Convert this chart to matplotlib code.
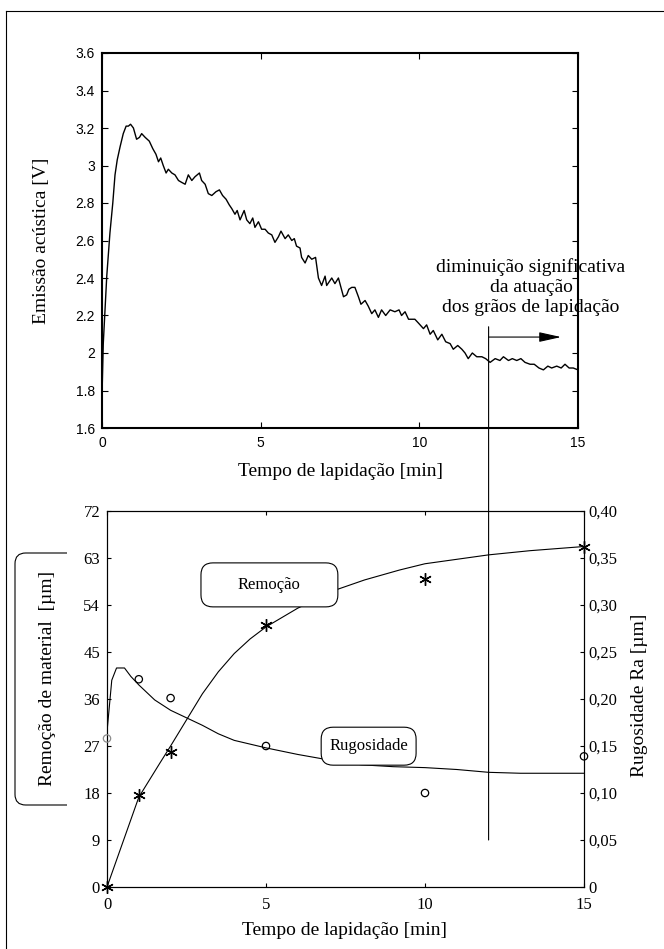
import matplotlib
matplotlib.use('Agg')
from matplotlib import pyplot
from matplotlib.patches import FancyBboxPatch, Rectangle, ConnectionPatch
from matplotlib.lines import Line2D
from matplotlib.ticker import FuncFormatter
import matplotlib.transforms as mtransforms

# emissao acustica x tempo
ae_t = [0.00, 0.04, 0.15, 0.25, 0.34, 0.41, 0.48, 0.57, 0.67, 0.76,
        0.83, 0.90, 0.99, 1.09, 1.18, 1.25, 1.36, 1.49, 1.60, 1.70,
        1.78, 1.85, 1.93, 2.02, 2.09, 2.20, 2.30, 2.41, 2.51, 2.62,
        2.72, 2.83, 2.93, 3.07, 3.14, 3.25, 3.35, 3.46, 3.59, 3.70,
        3.80, 3.91, 4.01, 4.09, 4.19, 4.26, 4.35, 4.48, 4.56, 4.66,
        4.75, 4.82, 4.93, 5.03, 5.14, 5.24, 5.35, 5.45, 5.56, 5.64,
        5.77, 5.87, 5.98, 6.06, 6.13, 6.24, 6.29, 6.40, 6.50, 6.61,
        6.73, 6.82, 6.92, 7.03, 7.08, 7.24, 7.34, 7.45, 7.53, 7.61,
        7.71, 7.78, 7.87, 7.97, 8.08, 8.16, 8.29, 8.39, 8.50, 8.60,
        8.71, 8.81, 8.94, 9.08, 9.23, 9.36, 9.44, 9.55, 9.66, 9.86,
        9.97, 10.13, 10.23, 10.34, 10.44, 10.58, 10.71, 10.83, 10.97, 11.07,
        11.21, 11.34, 11.44, 11.54, 11.67, 11.81, 11.97, 12.09, 12.23, 12.39,
        12.54, 12.65, 12.81, 12.93, 13.07, 13.20, 13.33, 13.49, 13.62, 13.77,
        13.91, 14.05, 14.17, 14.33, 14.47, 14.59, 14.72, 14.85, 15.00]
ae_v = [1.77, 2.05, 2.41, 2.64, 2.80, 2.95, 3.03, 3.10, 3.17, 3.21,
        3.21, 3.22, 3.20, 3.14, 3.15, 3.17, 3.15, 3.13, 3.09, 3.06,
        3.02, 3.04, 3.00, 2.96, 2.98, 2.96, 2.95, 2.92, 2.91, 2.90,
        2.95, 2.92, 2.94, 2.96, 2.92, 2.90, 2.85, 2.84, 2.86, 2.87,
        2.84, 2.82, 2.79, 2.77, 2.74, 2.76, 2.71, 2.76, 2.71, 2.69,
        2.72, 2.67, 2.70, 2.66, 2.66, 2.64, 2.63, 2.59, 2.62, 2.65,
        2.61, 2.63, 2.60, 2.61, 2.57, 2.56, 2.51, 2.48, 2.52, 2.50,
        2.51, 2.40, 2.36, 2.41, 2.36, 2.40, 2.37, 2.40, 2.35, 2.30,
        2.31, 2.34, 2.35, 2.35, 2.30, 2.26, 2.28, 2.25, 2.21, 2.23,
        2.19, 2.23, 2.20, 2.23, 2.22, 2.23, 2.20, 2.22, 2.18, 2.18,
        2.16, 2.13, 2.15, 2.10, 2.12, 2.07, 2.10, 2.06, 2.05, 2.02,
        2.04, 2.02, 2.00, 1.97, 2.00, 1.98, 1.98, 1.97, 1.95, 1.97,
        1.96, 1.98, 1.96, 1.97, 1.96, 1.97, 1.95, 1.94, 1.94, 1.92,
        1.91, 1.93, 1.92, 1.93, 1.92, 1.94, 1.92, 1.92, 1.91]

# remocao de material [um]
rem_t = [0, 1, 2, 5, 10, 15]
rem_v = [0, 17.6, 25.9, 50.2, 59.0, 65.1]
rem_fit_t = [0, 1, 1.66, 2, 2.5, 3, 3.5, 4, 4.5, 5, 6, 7.2, 8.1, 9.2, 10, 12, 13.3, 15]
rem_fit_v = [0, 17.2, 23.7, 27.0, 32.0, 37.0, 41.2, 44.7, 47.5, 49.8, 53.4, 56.9, 58.8, 60.7, 61.9, 63.6, 64.4, 65.2]

# rugosidade Ra [um]
rug_t = [0, 1, 2, 5, 10, 15]
rug_v = [0.158, 0.221, 0.201, 0.150, 0.100, 0.139]
rug_fit_t = [0, 0.15, 0.3, 0.55, 0.75, 1, 1.5, 2, 2.5, 3, 3.5, 4, 5, 6, 7, 8, 9, 10, 11, 12, 13, 14, 15]
rug_fit_v = [0.165, 0.220, 0.233, 0.233, 0.224, 0.215, 0.199, 0.188, 0.180, 0.172, 0.163, 0.156, 0.148,
             0.141, 0.135, 0.130, 0.128, 0.127, 0.125, 0.122, 0.121, 0.121, 0.121]

time_ticks = [0, 5, 10, 15]
ae_ticks = [1.6, 1.8, 2.0, 2.2, 2.4, 2.6, 2.8, 3.0, 3.2, 3.4, 3.6]
rem_ticks = [0, 9, 18, 27, 36, 45, 54, 63, 72]
rug_ticks = [0, 0.05, 0.10, 0.15, 0.20, 0.25, 0.30, 0.35, 0.40]
rug_labels = ['0', '0,05', '0,10', '0,15', '0,20', '0,25', '0,30', '0,35', '0,40']
t_mark = 12

pyplot.rcParams['font.family'] = ['Liberation Serif', 'DejaVu Serif']

W, H = 664, 949
fig = pyplot.figure(figsize=(W / 100, H / 100), dpi=100)

# outer frame (only left and top edges visible)
fig.add_artist(Line2D([6 / W, 6 / W], [0, 1 - 11 / H], color='black', lw=0.8, transform=fig.transFigure))
fig.add_artist(Line2D([6 / W, 1], [1 - 11 / H, 1 - 11 / H], color='black', lw=0.8, transform=fig.transFigure))

# ---- top: acoustic emission
ax1 = fig.add_axes([102 / W, 1 - 428 / H, 476 / W, 375 / H])
ax1.plot(ae_t, ae_v, '-', color='black', lw=1.0)
ax1.set_xlim(0, 15)
ax1.set_ylim(1.6, 3.6)
ax1.set_xticks(time_ticks)
ax1.set_yticks(ae_ticks)
ax1.yaxis.set_major_formatter(FuncFormatter(lambda v, p: '%g' % round(v, 1)))
ax1.tick_params(direction='in', top=True, right=True, length=4, width=0.8,
                labelsize=10, labelfontfamily='Liberation Sans')
ax1.tick_params(axis='x', pad=6)
ax1.tick_params(axis='y', pad=5)
for s in ax1.spines.values():
    s.set_linewidth(1.5)
fig.text(340 / W, 1 - 476 / H, 'Tempo de lapidação [min]', ha='center', va='baseline', fontsize=14)
fig.text(42 / W, 1 - 241 / H, 'Emissão acústica [V]', ha='center', va='center', rotation=90, fontsize=14)

# ---- bottom: removal and roughness
ax2 = fig.add_axes([107 / W, 1 - 887 / H, 477 / W, 376 / H])
ax3 = ax2.twinx()
ax2.plot(rem_fit_t, rem_fit_v, '-', color='black', lw=0.8)
ax2.plot(rem_t, rem_v, ls='none', marker=(6, 2, 0), color='black', ms=9, mew=1.0, clip_on=False)
ax2.set_xlim(0, 15)
ax2.set_ylim(0, 72)
ax2.set_xticks(time_ticks)
ax2.set_yticks(rem_ticks)
ax2.tick_params(direction='in', top=True, length=3, width=0.8, labelsize=12)
ax2.tick_params(axis='x', pad=7)
ax2.tick_params(axis='y', pad=5)

ax3.plot(rug_fit_t, rug_fit_v, '-', color='black', lw=0.8)
ax3.scatter(rug_t, rug_v, s=28, facecolors='none',
            edgecolors=['#8c8c8c'] + ['black'] * (len(rug_t) - 1), linewidths=0.9, clip_on=False, zorder=3)
ax3.set_ylim(0, 0.4)
ax3.set_yticks(rug_ticks)
ax3.set_yticklabels(rug_labels)
ax3.tick_params(direction='in', length=3, width=0.8, labelsize=12, pad=3.5)
for a in (ax2, ax3):
    for s in a.spines.values():
        s.set_linewidth(0.8)

fig.text(345 / W, 1 - 935 / H, 'Tempo de lapidação [min]', ha='center', va='baseline', fontsize=14)
fig.text(640 / W, 1 - 695 / H, 'Rugosidade Ra [µm]', ha='center', va='center', rotation=90, fontsize=14)
fig.text(47 / W, 1 - 678 / H, 'Remoção de material  [µm]', ha='center', va='center', rotation=90, fontsize=14)

# rounded frame round the left label, cut on its right side
lbox = FancyBboxPatch((15 / W, 1 - 805 / H), 100 / W, 252 / H,
                      boxstyle='round,pad=0,rounding_size=0.016', mutation_aspect=W / H,
                      fc='none', ec='black', lw=0.8, transform=fig.transFigure)
fig.add_artist(lbox)
lbox.set_clip_path(Rectangle((0, 0), 67 / W, 1, transform=fig.transFigure))

# curve labels in rounded boxes (axes fraction of the bottom plot)
asp = 477 / 376
for x0, y0, w, h, txt in [(0.197, 0.745, 0.287, 0.117, 'Remoção'),
                          (0.449, 0.324, 0.199, 0.101, 'Rugosidade')]:
    ax3.add_patch(FancyBboxPatch((x0, y0), w, h, boxstyle='round,pad=0,rounding_size=0.025',
                                 mutation_aspect=asp, fc='white', ec='black', lw=0.8,
                                 transform=ax3.transAxes, zorder=5))
    ax3.text(x0 + w / 2, y0 + h / 2, txt, ha='center', va='center', fontsize=12,
             transform=ax3.transAxes, zorder=6)

# vertical marker at t = 12 min across both plots, with arrow and note
blend = mtransforms.blended_transform_factory(ax2.transData, ax1.transData)
fig.add_artist(ConnectionPatch(xyA=(t_mark, 0.05), coordsA=ax3.transData,
                               xyB=(t_mark, 2.14), coordsB=blend, color='black', lw=0.8))
ax1.annotate('', xy=(14.28, 2.085), xycoords=blend, xytext=(t_mark, 2.085), textcoords=blend,
             arrowprops=dict(arrowstyle='-|>,head_length=0.9,head_width=0.2', color='black',
                             lw=0.8, mutation_scale=15, shrinkA=0, shrinkB=0))
ax1.text(13.52, 2.352, 'diminuição significativa\nda atuação\ndos grãos de lapidação',
         ha='center', va='center', multialignment='center', fontsize=14, clip_on=False)

fig.savefig('out.png', dpi=100)
